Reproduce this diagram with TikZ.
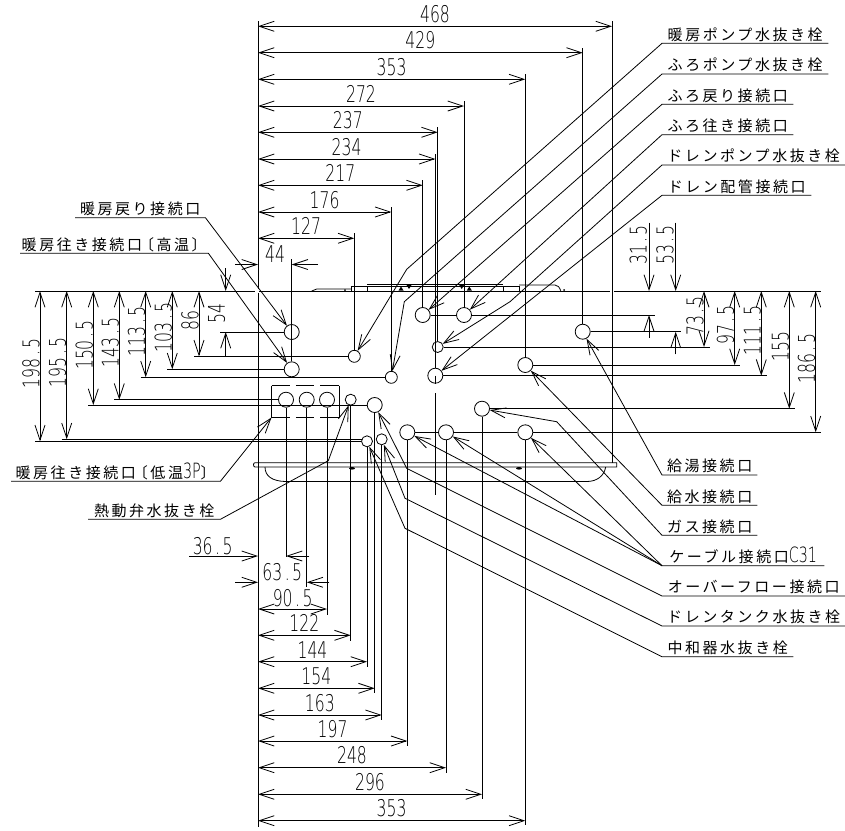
\documentclass[tikz,border=0pt]{standalone}
\usepackage{fontspec}
\usetikzlibrary{arrows.meta}
\newfontfamily\jpfont[LetterSpace=17]{Noto Sans CJK JP}
\newfontfamily\numfont[FakeStretch=0.68]{DejaVu Sans ExtraLight}
\newcommand{\dpt}{\hspace{2.5pt}.\hspace{2.5pt}}
\newcommand{\brl}{\hspace{-3pt}〔}
\newcommand{\brr}{〕\hspace{-3pt}}
\tikzset{
    barb/.tip={Straight Barb[length=15pt,width=10pt]},
    thinline/.style={line width=0.8pt},
    dimline/.style={thinline,barb-barb},
    dimtip/.style={thinline,-barb},
    extline/.style={thinline},
    leader/.style={thinline,-barb},
    dimtext/.style={font=\fontsize{23}{23}\numfont,inner sep=0pt},
    dimtextv/.style={dimtext,rotate=90},
    tag/.style={font=\fontsize{15}{15}\jpfont,inner xsep=0pt,inner ysep=3pt,text height=13pt,text depth=0pt,anchor=south west},
    port/.style={circle,draw,thinline,inner sep=0pt,minimum size=15pt},
    portsmall/.style={port,minimum size=11pt},
    portmid/.style={port,minimum size=12pt}
}
\begin{document}
\begin{tikzpicture}[x=1pt,y=-1pt]
    \useasboundingbox (0,0) rectangle (845,830);

    % body outline
    \draw[thinline] (35,291) -- (255,291);
    \draw[thinline] (259,291) -- (610,291);
    \draw[thinline] (614,291) -- (821,291);
    \draw[thinline] (258,21) -- (258,289);
    \draw[thinline] (258,293) -- (258,827);
    \draw[thinline] (612,21) -- (612,463);

    \draw[thinline] (311.7,291) -- (316.7,289) -- (351.7,289);
    \draw[thinline] (351.7,286.7) rectangle (367.3,291);
    \draw[thinline] (367.3,284.3) -- (503.3,284.3);
    \draw[thinline] (367.3,286) -- (503.3,286);
    \draw[thinline] (503.3,286) rectangle (519,291);
    \draw[thinline] (519,285) -- (555,285) .. controls (558,285) and (559.5,287.5) .. (560.7,290.7);
    \fill (345,290) circle (1pt);
    \fill (564,290) circle (1pt);
    \fill (398.5,290.5) -- (403.5,290.5) -- (401,286.5) -- cycle;
    \fill (406.5,285) -- (411.5,285) -- (409,289) -- cycle;
    \fill (459.2,285) -- (464.2,285) -- (461.7,289) -- cycle;
    \fill (466.8,290.5) -- (471.8,290.5) -- (469.3,286.5) -- cycle;

    \draw[thinline] (255,462.7) -- (616.7,462.7) -- (616.7,467) -- (255,467)
        .. controls (253,467) and (253,462.7) .. (255,462.7);
    \draw[thinline] (265,467) .. controls (265,476) and (272,481) .. (285,481.5) -- (586.7,481.5)
        .. controls (597,481.5) and (604,476) .. (605.7,467);
    \fill (352,468.3) ellipse (3pt and 1.3pt);
    \fill (519,468.3) ellipse (3pt and 1.3pt);

    \node[
        inner sep=0pt,
        minimum width=67.3pt,
        minimum height=31.6pt,
        name=bLow
    ] at (305.35,401.5) {};
    \draw[thinline] (bLow.north west) -- (bLow.south west);
    \draw[thinline] (bLow.north east) -- (bLow.south east);
    \draw[thinline,dash pattern=on 18.4pt off 6pt] (bLow.north west) -- (bLow.north east);
    \draw[thinline,dash pattern=on 18.4pt off 6pt] (bLow.south west) -- (bLow.south east);

    % ports
    \node[port] (pHeatRet) at (291.7,332) {};
    \node[port] (pHeatHi) at (291.7,369.3) {};
    \node[portmid] (pHeatPump) at (354.3,356.3) {};
    \node[portmid] (pBathPump) at (391.3,377.3) {};
    \node[port] (pLowA) at (286,399.7) {};
    \node[port] (pLowB) at (306.7,399.7) {};
    \node[port] (pLowC) at (327,399.7) {};
    \node[portsmall] (pValve) at (350.7,399.7) {};
    \node[port] (pOver) at (374.7,405) {};
    \node[portsmall] (pNeut) at (367,441.3) {};
    \node[portsmall] (pTank) at (381.7,439.3) {};
    \node[port] (pCabA) at (407.3,432.3) {};
    \node[port] (pCabB) at (446,432.3) {};
    \node[port] (pCabC) at (525.3,432.3) {};
    \node[port] (pGas) at (482,408.7) {};
    \node[port] (pBathRet) at (422.7,315) {};
    \node[port] (pBathGo) at (464,315) {};
    \node[portsmall] (pDrainPump) at (437.7,347) {};
    \node[port] (pDrain) at (435.3,375.7) {};
    \node[port] (pWater) at (525.3,365) {};
    \node[port] (pHot) at (582.7,331.7) {};

    % top dimensions
    \draw[extline] (pHot) -- (582.7,48);
    \draw[extline] (pWater) -- (525.3,74);
    \draw[extline] (pBathGo) -- (464,101);
    \draw[extline] (pDrainPump) -- (437.7,127);
    \draw[extline] (pDrain) -- (435.3,154);
    \draw[extline] (pDrain.center) -- (435.3,384);
    \draw[extline] (435.3,393) -- (435.3,495);
    \draw[extline] (pBathRet) -- (422.7,180);
    \draw[extline] (pBathPump) -- (391.3,207);
    \draw[extline] (pHeatPump) -- (354.3,233);
    \draw[extline] (pHeatHi) -- (291.7,259);

    \draw[dimline] (258,26.3) -- (612,26.3) node[midway,above=3pt,dimtext] (dA) {468};
    \draw[dimline] (258,52.7) -- (582.7,52.7) node[midway,above=3pt,dimtext] (dB) {429};
    \draw[dimline] (258,79.3) -- (525.3,79.3) node[midway,above=3pt,dimtext] (dC) {353};
    \draw[dimline] (258,106) -- (464,106) node[midway,above=3pt,dimtext] (dD) {272};
    \draw[dimline] (258,132.3) -- (437.7,132.3) node[midway,above=3pt,dimtext] (dE) {237};
    \draw[dimline] (258,159) -- (435.3,159) node[midway,above=3pt,dimtext] (dF) {234};
    \draw[dimline] (258,185.3) -- (422.7,185.3) node[midway,above=3pt,dimtext] (dG) {217};
    \draw[dimline] (258,212) -- (391.3,212) node[midway,above=3pt,dimtext] (dH) {176};
    \draw[dimline] (258,238.3) -- (354.3,238.3) node[midway,above=3pt,dimtext] (dJ) {127};
    \draw[dimtip] (235,264.5) -- (258,264.5);
    \draw[dimtip] (318,264.5) -- (291.7,264.5);
    \node[dimtext] (dK) at (275,254) {44};

    % left dimensions
    \draw[extline] (35,441.3) -- (pNeut);
    \draw[extline] (61.7,439.3) -- (361.5,439.3);
    \draw[extline] (88.3,405) -- (pOver);
    \draw[extline] (114,399.7) -- (pLowA);
    \draw[extline] (140.7,377.3) -- (pBathPump);
    \draw[extline] (167.3,369.3) -- (pHeatHi);
    \draw[extline] (194,356.3) -- (pHeatPump);
    \draw[extline] (220,332) -- (pHeatRet);

    \draw[dimline] (40,291) -- (40,441.3) node[midway,above=3pt,dimtextv] (dL) {198\dpt5};
    \draw[dimline] (66.7,291) -- (66.7,439.3) node[midway,above=3pt,dimtextv] (dM) {195\dpt5};
    \draw[dimline] (93.3,291) -- (93.3,405) node[midway,above=3pt,dimtextv] (dN) {150\dpt5};
    \draw[dimline] (119.3,291) -- (119.3,399.7) node[midway,above=3pt,dimtextv] (dP) {143\dpt5};
    \draw[dimline] (145.7,291) -- (145.7,377.3) node[midway,above=3pt,dimtextv] (dQ) {113\dpt5};
    \draw[dimline] (172.3,291) -- (172.3,369.3) node[midway,above=3pt,dimtextv] (dR) {103\dpt5};
    \draw[dimline] (199,291) -- (199,356.3) node[midway,above=3pt,dimtextv] (dS) {86};
    \draw[dimtip] (225.7,268) -- (225.7,291);
    \draw[dimtip] (225.7,356) -- (225.7,332);
    \node[dimtextv] (dT) at (216.7,313.3) {54};

    % right dimensions
    \draw[extline] (pBathGo) -- (655,315);
    \draw[extline] (pBathRet) -- (pBathGo);
    \draw[extline] (pHot) -- (681,331.7);
    \draw[extline] (pDrainPump) -- (710,347);
    \draw[extline] (pWater) -- (740,365);
    \draw[extline] (pDrain) -- (766.7,375.7);
    \draw[extline] (pGas) -- (795,408.7);
    \draw[extline] (pCabA) -- (pCabB);
    \draw[extline] (pCabB) -- (pCabC);
    \draw[extline] (pCabC) -- (821,432.3);

    \draw[dimtip] (649,222.7) -- (649,291);
    \draw[dimtip] (649,337.7) -- (649,315);
    \node[dimtextv] (dU) at (638.3,245) {31\dpt5};
    \draw[dimtip] (675.7,222.7) -- (675.7,291);
    \draw[dimtip] (675.7,354.3) -- (675.7,331.7);
    \node[dimtextv] (dV) at (665,245) {53\dpt5};
    \draw[dimline] (704,291) -- (704,347) node[midway,above=3pt,dimtextv] (dW) {73\dpt5};
    \draw[dimline] (734.7,291) -- (734.7,365) node[midway,above=3pt,dimtextv] (dX) {97\dpt5};
    \draw[dimline] (761.3,291) -- (761.3,375.7) node[midway,above=3pt,dimtextv] (dY) {111\dpt5};
    \draw[dimline] (789.3,291) -- (789.3,408.7) node[midway,above=3pt,dimtextv] (dZ) {155};
    \draw[dimline] (815.7,291) -- (815.7,432.3) node[midway,above=3pt,dimtextv] (dAA) {186\dpt5};

    % bottom dimensions
    \draw[extline] (pLowA) -- (286,556.7);
    \draw[extline] (pLowB) -- (306.7,586.7);
    \draw[extline] (pLowC) -- (327,615);
    \draw[extline] (pValve) -- (350.7,640.7);
    \draw[extline] (pNeut) -- (367,666.7);
    \draw[extline] (pOver) -- (374.7,693);
    \draw[extline] (pTank) -- (381.7,720);
    \draw[extline] (pCabA) -- (407.3,746);
    \draw[extline] (pCabB) -- (446,772.7);
    \draw[extline] (pGas) -- (482,799);
    \draw[extline] (pCabC) -- (525.3,825);

    \draw[dimtip] (189.3,556) -- (258,556);
    \draw[dimtip] (309.3,556) -- (286,556);
    \node[dimtext] (dAB) at (212.7,545.7) {36\dpt5};
    \draw[dimtip] (235,582.3) -- (258,582.3);
    \draw[dimtip] (329.3,582.3) -- (306.7,582.3);
    \node[dimtext] (dAC) at (282.3,571.7) {63\dpt5};
    \draw[dimline] (258,609) -- (327,609);
    \node[dimtext] (dAD) at (292.7,598.3) {90\dpt5};
    \draw[dimline] (258,635.3) -- (350.7,635.3) node[midway,above=3pt,dimtext] (dAE) {122};
    \draw[dimline] (258,661.7) -- (367,661.7) node[midway,above=3pt,dimtext] (dAF) {144};
    \draw[dimline] (258,688.3) -- (374.7,688.3) node[midway,above=3pt,dimtext] (dAG) {154};
    \draw[dimline] (258,715) -- (381.7,715) node[midway,above=3pt,dimtext] (dAH) {163};
    \draw[dimline] (258,741) -- (407.3,741) node[midway,above=3pt,dimtext] (dAJ) {197};
    \draw[dimline] (258,767.7) -- (446,767.7) node[midway,above=3pt,dimtext] (dAK) {248};
    \draw[dimline] (258,794.3) -- (482,794.3) node[midway,above=3pt,dimtext] (dAL) {296};
    \draw[dimline] (258,820.7) -- (525.3,820.7) node[midway,above=3pt,dimtext] (dAM) {353};

    % labels, upper right
    \node[tag,minimum width=166pt] (tHeatPump) at (662,43.3) {暖房ポンプ水抜き栓};
    \node[tag,minimum width=166pt] (tBathPump) at (662,74) {ふろポンプ水抜き栓};
    \node[tag,minimum width=131pt] (tBathRet) at (662,104.3) {ふろ戻り接続口};
    \node[tag,minimum width=131pt] (tBathGo) at (662,134.7) {ふろ往き接続口};
    \node[tag,minimum width=183pt] (tDrainPump) at (662,165) {ドレンポンプ水抜き栓};
    \node[tag,minimum width=149pt] (tDrain) at (662,195.3) {ドレン配管接続口};

    \draw[leader] (tHeatPump.south east) -- (tHeatPump.south west) -- (406.7,269.3) -- (pHeatPump);
    \draw[leader] (tBathPump.south east) -- (tBathPump.south west) -- (404.3,301.7) -- (pBathPump);
    \draw[leader] (tBathRet.south east) -- (tBathRet.south west) -- (pBathRet);
    \draw[leader] (tBathGo.south east) -- (tBathGo.south west) -- (pBathGo);
    \draw[leader] (tDrainPump.south east) -- (tDrainPump.south west) -- (510,301.7) -- (pDrainPump);
    \draw[leader] (tDrain.south east) -- (tDrain.south west) -- (pDrain);

    % labels, lower right
    \node[tag,minimum width=95pt] (tHot) at (662,475) {給湯接続口};
    \node[tag,minimum width=95pt] (tWater) at (662,505.3) {給水接続口};
    \node[tag,minimum width=95pt] (tGas) at (662,535.3) {ガス接続口};
    \node[tag,minimum width=162pt] (tCable) at (662,565.7) {ケーブル接続口{\fontsize{21}{21}\numfont C31}};
    \node[tag,minimum width=183pt] (tOver) at (662,596) {オーバーフロー接続口};
    \node[tag,minimum width=183pt] (tTank) at (662,626) {ドレンタンク水抜き栓};
    \node[tag,minimum width=131pt] (tNeut) at (662,656.7) {中和器水抜き栓};

    \draw[leader] (tHot.south east) -- (tHot.south west) -- (pHot);
    \draw[leader] (tWater.south east) -- (tWater.south west) -- (pWater);
    \draw[leader] (tGas.south east) -- (tGas.south west) -- (556.7,421.7) -- (pGas);
    \draw[leader] (tCable.south east) -- (tCable.south west) -- (pCabC);
    \draw[leader] (tCable.south west) -- (pCabB);
    \draw[leader] (tCable.south west) -- (pCabA);
    \draw[leader] (tOver.south east) -- (tOver.south west) -- (406.7,468.3) -- (pOver);
    \draw[leader] (tTank.south east) -- (tTank.south west) -- (405,498.3) -- (pTank);
    \draw[leader] (tNeut.south east) -- (tNeut.south west) -- (405,528.3) -- (pNeut);

    % labels, left
    \node[tag,minimum width=130pt] (tHeatRet) at (75,217.7) {暖房戻り接続口};
    \node[tag,minimum width=188pt] (tHeatHi) at (20,253.3) {暖房往き接続口\brl 高温\brr};
    \node[tag,minimum width=209pt] (tHeatLow) at (11,481.3) {暖房往き接続口\brl 低温{\fontsize{21}{21}\numfont 3P}\brr};
    \node[tag,minimum width=132pt] (tValve) at (88,519.3) {熱動弁水抜き栓};

    \draw[leader] (tHeatRet.south west) -- (tHeatRet.south east) -- (pHeatRet);
    \draw[leader] (tHeatHi.south west) -- (tHeatHi.south east) -- (pHeatHi);
    \draw[leader] (tHeatLow.south west) -- (tHeatLow.south east) -- (bLow.south west);
    \draw[leader] (tValve.south west) -- (tValve.south east) -- (328.3,460.7) -- (pValve);
\end{tikzpicture}
\end{document}
